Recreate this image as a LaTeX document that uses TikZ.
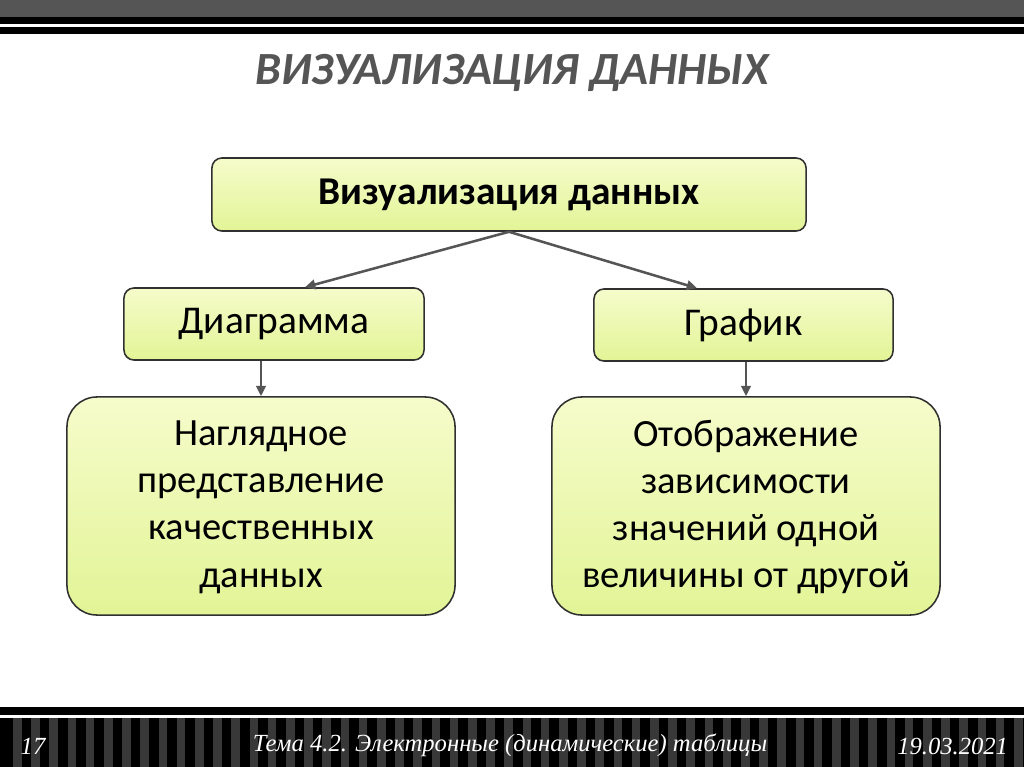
\documentclass[tikz,border=0pt]{standalone}
\usepackage{fontspec}
\setmainfont{Carlito}
\newfontfamily\footfont{Liberation Serif}
\usepackage{tikz}
\usetikzlibrary{arrows.meta,positioning,calc}
\definecolor{cA}{HTML}{303030}
\definecolor{cG}{HTML}{555555}
\definecolor{cS}{HTML}{383838}
\definecolor{cT}{HTML}{F6FCCB}
\definecolor{cB}{HTML}{E2F496}
\tikzset{
  box/.style={rounded corners=0.25cm,draw=cA,line width=1.1pt,
              top color=cT,bottom color=cB,align=center,
              minimum width=7.5cm,minimum height=1.8cm,inner sep=0pt,
              font=\fontsize{28}{32}\selectfont},
  bigbox/.style={box,rounded corners=0.75cm,minimum width=9.7cm,
              minimum height=5.45cm,font=\fontsize{27.4}{33.5}\selectfont},
  maparrow/.style={-{Triangle[length=2.6mm,width=2.4mm]},line width=1.8pt,cG},
  foot/.style={text=white,font=\footfont\itshape\fontsize{17.5}{20}\selectfont},
}

\begin{document}
\begin{tikzpicture}[x=0.025cm,y=-0.025cm]
  \useasboundingbox (0,0) rectangle (1024,767);
  % header bars
  \fill[cG] (0,0) rectangle (1024,17);
  \fill[black] (0,17.5) rectangle (1024,24);
  \fill[black] (0,27) rectangle (1024,34);
  % footer bars
  \fill[black] (0,707) rectangle (1024,715);
  \fill[black] (0,717.5) rectangle (1024,767);
  \foreach \i in {0,...,56}
    \fill[cS] (13+\i*18.2,717.5) rectangle (21.5+\i*18.2,767);
  \node[text=cG,font=\fontsize{32.8}{36}\selectfont\bfseries\itshape] (title) at (512,73){ВИЗУАЛИЗАЦИЯ ДАННЫХ};
  \node[box,minimum width=14.85cm,minimum height=1.825cm,font=\fontsize{28}{32}\selectfont\bfseries] (viz) at (509,194.5){Визуализация данных};
  \node[box] (dia) at (274,324){Диаграмма};
  \node[box,minimum width=7.475cm] (graf) at (743.5,325){График};
  \node[bigbox,text depth=0.1cm] (nagl) at (261,506){Наглядное\\представление\\качественных\\данных};
  \node[bigbox,text depth=0.1cm] (otob) at (746,506){Отображение\\зависимости\\значений одной\\величины от другой};
  \draw[maparrow] (viz.south) -- ([xshift=0.775cm]dia.north);
  \draw[maparrow] (viz.south) -- ([xshift=-1.16cm]graf.north);
  \draw[maparrow] (nagl.north |- dia.south) -- (nagl.north);
  \draw[maparrow] (graf.south -| otob.north) -- (otob.north);
  % footer texts
  \node[foot] (num) at (33,746){17};
  \node[foot] (topic) at (510,745){Тема 4.2. Электронные (динамические) таблицы};
  \node[foot,anchor=east] (date) at (1013,746){19.03.2021};
\end{tikzpicture}
\end{document}
